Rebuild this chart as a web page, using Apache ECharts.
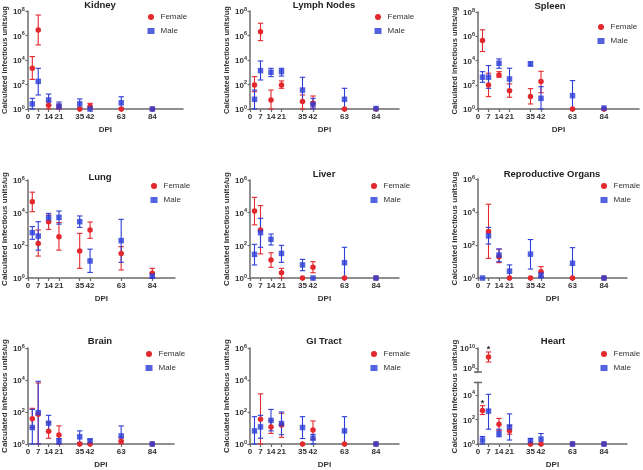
<!DOCTYPE html>
<html><head><meta charset="utf-8">
<script src="https://cdn.jsdelivr.net/npm/echarts@6/dist/echarts.min.js"></script>
<style>html,body{margin:0;padding:0;background:#fff}#c{width:643px;height:470px}</style>
</head><body><div id="c"></div>
<script>
// ---------- DATA ----------
const days = [3, 7, 14, 21, 35, 42, 63, 84];
const xTicks = [0, 7, 14, 21, 35, 42, 63, 84];
const panelTitles = ['Kidney', 'Lymph Nodes', 'Spleen', 'Lung', 'Liver', 'Reproductive Organs', 'Brain', 'GI Tract', 'Heart'];
const seriesNames = ['Female', 'Male'];
const yName = 'Calculated infectious units/ug';

const kidneyF   = [2100, 2.8e6, 2, 1.5, 1, 1.7, 1, 1];
const kidneyFHi = [1.9e4, 4.7e7, 4, 2.5, null, 2.9, null, null];
const kidneyFLo = [260, 1.7e5, 1, 1, null, 1, null, null];
const kidneyM   = [2.6, 180, 5.4, 1.7, 2.6, 1, 3.2, 1];
const kidneyMHi = [7.4, 2100, 16.6, 3.7, 6.6, null, 10, null];
const kidneyMLo = [1, 14, 2.1, 1, 1.3, null, 1.26, null];

const lymphF   = [90, 2.0e6, 5.4, 91, 4, 2.9, 1, 1];
const lymphFHi = [440, 1e7, 35, 195, 14, 11.5, null, null];
const lymphFLo = [26, 3.8e5, 1, 49, 1, 1.2, null, null];
const lymphM   = [6.2, 1350, 1000, 1120, 35, 2.4, 6.2, 1.1];
const lymphMHi = [35, 8300, 2100, 2100, 390, 7.4, 49, null];
const lymphMLo = [1, 234, 440, 490, 4, 1, 1, null];

const spleenF   = [4.4e5, 95, 650, 32, 10.5, 182, 1, 1];
const spleenFHi = [3.4e6, 890, 1200, 117, 48, 1290, null, null];
const spleenFLo = [5.5e4, 10.5, 420, 9.3, 2.6, 22, null, null];
const spleenM   = [420, 420, 5900, 300, 5200, 7.6, 12.6, 1.2];
const spleenMHi = [1200, 3800, 1.35e4, 2300, 7600, 69, 220, null];
const spleenMLo = [160, 51, 2300, 37, 3600, 1, 1, null];

const lungF   = [4.7e4, 130, 2800, 340, 45, 870, 32, 1.95];
const lungFHi = [1.8e5, 870, 7200, 2500, 540, 2700, 83, 3.9];
const lungFLo = [1.15e4, 22, 950, 51, 3.9, 270, 3.1, 1];
const lungM   = [600, 370, 4900, 5100, 2800, 11, 195, 1.3];
const lungMHi = [1400, 2800, 9100, 1.26e4, 6300, 58, 3900, 2];
const lungMLo = [234, 51, 2800, 2000, 1260, 2.2, 9.1, 1];

const liverF   = [1.26e4, 870, 12.6, 2.1, 1, 4.5, 1, 1];
const liverFHi = [8.7e4, 2.7e4, 35, 3.9, null, 10, null, null];
const liverFLo = [1800, 30, 4.5, 1, null, 2.1, null, null];
const liverM   = [28, 600, 234, 32, 6.3, 1, 8.7, 1];
const liverMHi = [115, 4500, 490, 100, 13.8, null, 76, null];
const liverMLo = [6.3, 76, 105, 9.1, 2.8, null, 1, null];

const reproF   = [null, 650, 19.5, 1, 1, 2.4, 1, 1];
const reproFHi = [null, 2.95e4, 55, null, null, 4.9, null, null];
const reproFLo = [null, 15.5, 8.5, null, null, 1.26, null, null];
const reproM   = [1, 360, 24.5, 2.6, 28, 1.5, 7.8, 1];
const reproMHi = [null, 1170, 58, 6.2, 214, 2.2, 69, null];
const reproMLo = [null, 115, 9.8, 1, 3.5, 1, 1, null];

const brainF   = [38, 72, 6.2, 3.6, 1, 1, 1.5, 1];
const brainFHi = [170, 6500, 22, 13.5, null, null, 2.5, null];
const brainFLo = [10.7, 1, 2.3, 1, null, null, 1, null];
const brainM   = [10.7, 91, 20, 1.5, 2.8, 1.6, 3.2, 1];
const brainMHi = [145, 8300, 62, 2.2, 6.6, 2, 13.5, null];
const brainMLo = [1, 1, 5.8, 1, 1.26, 1, 1.6, null];

const giF   = [null, 35, 11.7, 15.5, 1, 7.4, 1, 1];
const giFHi = [null, 1350, 30, 83, null, 27.5, null, null];
const giFLo = [null, 1, 4.6, 2.6, null, 2, null, null];
const giM   = [6.6, 11.7, 30, 19, 10.7, 2.3, 6.6, 1];
const giMHi = [51, 62, 145, 100, 51, 4, 51, null];
const giMLo = [1, 2.3, 6.6, 3.8, 2.2, 1, 1, null];

const heartF   = [525, 1.26e9, 40, 11.7, 1, 1, 1, 1];
const heartFHi = [1300, 4e9, 120, 30, null, null, null, null];
const heartFLo = [250, 4e8, 13, 6.3, null, null, null, null];
const heartM   = [2.1, 470, 7.1, 24.5, 1.9, 2.5, 1, 1];
const heartMHi = [4.1, 1.1e4, 16, 280, 2.8, 7.1, null, null];
const heartMLo = [1, 16, 3.9, 2.1, 1.1, 1, null, null];
const heartFSig = ['*', '*', '', '', '', '', '', ''];

const panels = [
  [kidneyF, kidneyFHi, kidneyFLo, kidneyM, kidneyMHi, kidneyMLo],
  [lymphF, lymphFHi, lymphFLo, lymphM, lymphMHi, lymphMLo],
  [spleenF, spleenFHi, spleenFLo, spleenM, spleenMHi, spleenMLo],
  [lungF, lungFHi, lungFLo, lungM, lungMHi, lungMLo],
  [liverF, liverFHi, liverFLo, liverM, liverMHi, liverMLo],
  [reproF, reproFHi, reproFLo, reproM, reproMHi, reproMLo],
  [brainF, brainFHi, brainFLo, brainM, brainMHi, brainMLo],
  [giF, giFHi, giFLo, giM, giMHi, giMLo],
  [heartF, heartFHi, heartFLo, heartM, heartMHi, heartMLo]
];

// ---------- LAYOUT ----------
const LAYOUT = [
  {gx:26,  gy:11,  gw:157, gh:98, yMax:1e8, tx:100, ty:0,   lx:147.5, ly:12,  ng:15, nf:7.6},
  {gx:250, gy:11,  gw:149, gh:98, yMax:1e8, tx:324, ty:0,   lx:374.5, ly:12,  ng:17, nf:7.6},
  {gx:478, gy:12,  gw:161, gh:97, yMax:1e8, tx:550, ty:1,   lx:597.5, ly:22,  ng:19, nf:7.6},
  {gx:26,  gy:180, gw:149, gh:98, yMax:1e6, tx:100, ty:172, lx:150.5, ly:181, ng:15, nf:8},
  {gx:250, gy:180, gw:149, gh:98, yMax:1e6, tx:324, ty:169, lx:370.5, ly:181, ng:17, nf:8},
  {gx:478, gy:179, gw:149, gh:99, yMax:1e6, tx:552, ty:169, lx:600.5, ly:181, ng:19, nf:8},
  {gx:26,  gy:348, gw:148, gh:97, yMax:1e6, tx:100, ty:336, lx:145.5, ly:349, ng:15, nf:8},
  {gx:250, gy:348, gw:149, gh:97, yMax:1e6, tx:324, ty:336, lx:370.5, ly:349, ng:17, nf:8},
  {gx:478, gy:348, gw:149, gh:97, yMax:1e5, tx:553, ty:336, lx:600.5, ly:349, ng:19, nf:8,
   upper:{top:348, h:24, min:Math.pow(10,7.6), max:1e10}, lower:{top:382.5, h:62.5}}
];
const PX_PER_DAY = 1.5;

const FONT = '"Liberation Sans", Arial, sans-serif';
const RED = '#e3282e', BLUE = '#2d3ed8';
const AXIS = '#6b6b6b', TXT = '#333';

const RICH = {
  b: {fontSize: 8, fontWeight: 'bold', color: TXT, fontFamily: FONT, verticalAlign: 'bottom', lineHeight: 10},
  s: {fontSize: 5.5, fontWeight: 'bold', color: TXT, fontFamily: FONT, verticalAlign: 'top', lineHeight: 6}
};
function supLabel(v) {
  const e = Math.log10(v), r = Math.round(e);
  if (Math.abs(e - r) > 0.01 || r % 2 !== 0) return '';
  return '{b|10}{s|' + r + '}';
}

const option = {animation: false, backgroundColor: '#fff', grid: [], xAxis: [], yAxis: [], series: [], title: [], legend: []};

function addGrid(left, top, width, height) {
  option.grid.push({left: left, top: top, width: width, height: height, containLabel: false});
  return option.grid.length - 1;
}
function xAxisCfg(gi, xMax, show) {
  return {gridIndex: gi, type: 'value', min: 0, max: xMax, show: show,
    axisLine: {show: true, onZero: false, lineStyle: {color: AXIS, width: 1.5}},
    axisTick: {show: true, customValues: xTicks, length: 3, lineStyle: {color: AXIS, width: 1.2}},
    axisLabel: {show: true, customValues: xTicks, fontSize: 8, fontWeight: 'bold', color: TXT, fontFamily: FONT, margin: 4},
    splitLine: {show: false},
    name: 'DPI', nameLocation: 'middle', nameGap: 17,
    nameTextStyle: {fontSize: 8, fontWeight: 'bold', color: TXT, fontFamily: FONT}};
}
function nameStyle(size) {
  return {fontSize: size, fontWeight: 'bold', color: TXT, fontFamily: FONT};
}
function yAxisCfg(gi, yMin, yMax, name, gap, nf) {
  return {gridIndex: gi, type: 'log', logBase: 100, min: yMin, max: yMax,
    axisLine: {show: true, onZero: false, lineStyle: {color: AXIS, width: 1.5}},
    axisTick: {show: true, length: 2.5, lineStyle: {color: AXIS, width: 1.2}},
    axisLabel: {formatter: supLabel, margin: 3, rich: RICH},
    splitLine: {show: false},
    name: name || '', nameLocation: 'middle', nameRotate: 90, nameGap: gap || 15,
    nameTextStyle: nameStyle(nf || 8)};
}
function errRender(color, sigs) {
  return function (params, api) {
    const x = api.value(0), lo = api.value(1), hi = api.value(2);
    const top = api.coord([x, hi]), bot = api.coord([x, lo]);
    const w = 2.7;
    const st = {stroke: color, lineWidth: 1.1};
    const ch = [
      {type: 'line', shape: {x1: top[0], y1: top[1], x2: bot[0], y2: bot[1]}, style: st},
      {type: 'line', shape: {x1: top[0] - w, y1: top[1], x2: top[0] + w, y2: top[1]}, style: st},
      {type: 'line', shape: {x1: bot[0] - w, y1: bot[1], x2: bot[0] + w, y2: bot[1]}, style: st}
    ];
    const s = sigs[params.dataIndex];
    if (s) ch.push({type: 'text', x: top[0], y: top[1] - 2,
      style: {text: s, fontSize: 9, fontWeight: 'bold', fill: TXT, fontFamily: FONT, align: 'center', verticalAlign: 'middle'}});
    return {type: 'group', children: ch};
  };
}
function addSeries(gi, mean, hi, lo, color, symbol, opacity, z, keep, sig) {
  const pts = [], bars = [], sigs = [];
  days.forEach(function (d, i) {
    if (mean[i] == null || !keep(mean[i])) return;
    pts.push([d, mean[i]]);
    if (hi[i] != null) { bars.push([d, lo[i] == null ? 1 : lo[i], hi[i]]); sigs.push(sig ? sig[i] : ''); }
  });
  option.series.push({type: 'custom', xAxisIndex: gi, yAxisIndex: gi, data: bars, clip: false, silent: true, z: 2,
    encode: {x: 0, y: [1, 2]}, renderItem: errRender(color, sigs)});
  option.series.push({type: 'scatter', name: symbol === 'circle' ? seriesNames[0] : seriesNames[1],
    xAxisIndex: gi, yAxisIndex: gi, data: pts, symbol: symbol, symbolSize: 5.5,
    itemStyle: {color: color, opacity: opacity}, z: z, silent: true, clip: false});
}

const breakAxes = [];
panels.forEach(function (arr, k) {
  const L = LAYOUT[k];
  const xMax = L.gw / PX_PER_DAY;
  option.title.push({text: panelTitles[k], left: L.tx, top: L.ty, textAlign: 'center', padding: 0,
    textStyle: {fontSize: 9.5, fontWeight: 'bold', color: '#222', fontFamily: FONT}});
  option.legend.push({orient: 'vertical', left: L.lx, top: L.ly, itemWidth: 7, itemHeight: 6, itemGap: 4,
    selectedMode: false, padding: 0,
    data: [{name: seriesNames[0], icon: 'circle'}, {name: seriesNames[1], icon: 'rect'}],
    textStyle: {fontSize: 8, color: TXT, fontFamily: FONT, padding: [0, 0, 0, 1], lineHeight: 10}});
  if (!L.upper) {
    const gi = addGrid(L.gx, L.gy, L.gw, L.gh);
    option.xAxis.push(xAxisCfg(gi, xMax, true));
    option.yAxis.push(yAxisCfg(gi, 1, L.yMax, yName, L.ng, L.nf));
    addSeries(gi, arr[0], arr[1], arr[2], RED, 'circle', 1, 3, function () { return true; });
    addSeries(gi, arr[3], arr[4], arr[5], BLUE, 'rect', 0.82, 4, function () { return true; });
  } else {
    const gu = addGrid(L.gx, L.upper.top, L.gw, L.upper.h);
    option.xAxis.push(Object.assign(xAxisCfg(gu, xMax, false), {show: false}));
    option.yAxis.push(yAxisCfg(gu, L.upper.min, L.upper.max, '', 0));
    const gl = addGrid(L.gx, L.lower.top, L.gw, L.lower.h);
    option.xAxis.push(xAxisCfg(gl, xMax, true));
    option.yAxis.push(yAxisCfg(gl, 1, L.yMax, '', 0));
    const gn = addGrid(L.gx, L.gy, L.gw, L.gh);
    option.xAxis.push({gridIndex: gn, type: 'value', show: false, min: 0, max: 1});
    option.yAxis.push({gridIndex: gn, type: 'value', min: 0, max: 1, axisLine: {show: false}, axisTick: {show: false},
      axisLabel: {show: false}, splitLine: {show: false}, name: yName, nameLocation: 'middle', nameRotate: 90, nameGap: L.ng,
      nameTextStyle: nameStyle(L.nf)});
    const isUp = function (v) { return v > L.yMax; }, isLow = function (v) { return v <= L.yMax; };
    addSeries(gu, arr[0], arr[1], arr[2], RED, 'circle', 1, 3, isUp, heartFSig);
    addSeries(gl, arr[0], arr[1], arr[2], RED, 'circle', 1, 3, isLow, heartFSig);
    addSeries(gu, arr[3], arr[4], arr[5], BLUE, 'rect', 0.82, 4, isUp);
    addSeries(gl, arr[3], arr[4], arr[5], BLUE, 'rect', 0.82, 4, isLow);
    breakAxes.push({up: gu, low: gl, min: L.upper.min, max: L.yMax});
  }
});

const chart = echarts.init(document.getElementById('c'));
chart.setOption(option);

// axis-break marks on the heart panel, positioned through the library's axes
const gfx = [];
breakAxes.forEach(function (b) {
  const xu = chart.convertToPixel({xAxisIndex: b.up}, 0);
  const yu = chart.convertToPixel({yAxisIndex: b.up}, b.min);
  const yl = chart.convertToPixel({yAxisIndex: b.low}, b.max);
  [yu, yl].forEach(function (y) {
    gfx.push({type: 'line', shape: {x1: xu - 4, y1: y, x2: xu + 4, y2: y}, style: {stroke: AXIS, lineWidth: 1.5}, silent: true});
  });
});
chart.setOption({graphic: gfx});
</script>
</body></html>
